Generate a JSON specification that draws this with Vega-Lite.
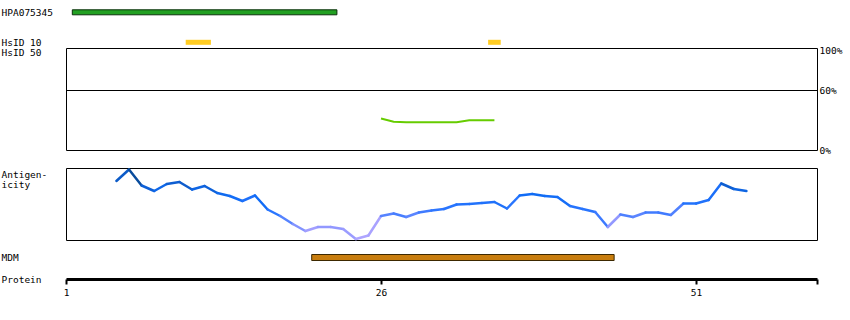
{
  "$schema": "https://vega.github.io/schema/vega-lite/v6.json",
  "background": "white",
  "padding": {"left": 0, "top": 0, "right": 0, "bottom": 0},
  "config": {
    "view": {"stroke": null},
    "font": "DejaVu Sans Mono",
    "axis": {"labelFont": "DejaVu Sans Mono", "titleFont": "DejaVu Sans Mono", "labelFontSize": 9.5, "titleFontSize": 9.5, "labelColor": "black", "titleColor": "black", "titleFontWeight": "normal", "grid": false}
  },
  "datasets": {
    "tracks": [
      {"track": "HPA075345", "from": 1.5, "to": 22.5},
      {"track": "HsID 10", "from": 10.5, "to": 12.5},
      {"track": "HsID 10", "from": 34.5, "to": 35.5}
    ],
    "hsid50": [
      {"p": 26, "v": 31.5}, {"p": 27, "v": 28.3}, {"p": 28, "v": 27.8}, {"p": 29, "v": 27.8},
      {"p": 30, "v": 27.8}, {"p": 31, "v": 27.8}, {"p": 32, "v": 27.8}, {"p": 33, "v": 29.7},
      {"p": 34, "v": 29.7}, {"p": 35, "v": 29.7}
    ],
    "anti": [
      {"p": 5, "v": 59}, {"p": 6, "v": 70.5}, {"p": 7, "v": 54.5}, {"p": 8, "v": 49}, {"p": 9, "v": 56},
      {"p": 10, "v": 58}, {"p": 11, "v": 50.5}, {"p": 12, "v": 54}, {"p": 13, "v": 47}, {"p": 14, "v": 44},
      {"p": 15, "v": 39}, {"p": 16, "v": 44.5}, {"p": 17, "v": 30.5}, {"p": 18, "v": 24}, {"p": 19, "v": 16},
      {"p": 20, "v": 9}, {"p": 21, "v": 13}, {"p": 22, "v": 13}, {"p": 23, "v": 11}, {"p": 24, "v": 1},
      {"p": 25, "v": 4.5}, {"p": 26, "v": 24}, {"p": 27, "v": 26.5}, {"p": 28, "v": 23}, {"p": 29, "v": 27.5},
      {"p": 30, "v": 29.5}, {"p": 31, "v": 31}, {"p": 32, "v": 35.5}, {"p": 33, "v": 36}, {"p": 34, "v": 37},
      {"p": 35, "v": 38}, {"p": 36, "v": 31.5}, {"p": 37, "v": 44.5}, {"p": 38, "v": 46}, {"p": 39, "v": 44},
      {"p": 40, "v": 43}, {"p": 41, "v": 34}, {"p": 42, "v": 31}, {"p": 43, "v": 28}, {"p": 44, "v": 13},
      {"p": 45, "v": 25.5}, {"p": 46, "v": 23}, {"p": 47, "v": 27.5}, {"p": 48, "v": 27.5}, {"p": 49, "v": 25},
      {"p": 50, "v": 36.5}, {"p": 51, "v": 36.5}, {"p": 52, "v": 40}, {"p": 53, "v": 56.5}, {"p": 54, "v": 51},
      {"p": 55, "v": 49}
    ],
    "mdm": [
      {"track": "MDM", "from": 20.5, "to": 44.5}
    ]
  },
  "spacing": 0,
  "bounds": "flush",
  "vconcat": [
    {
      "width": 751,
      "height": 48,
      "data": {"name": "tracks"},
      "layer": [
        {
          "transform": [{"filter": "datum.track == 'HPA075345'"}],
          "mark": {"type": "bar", "height": 5, "fill": "#22a022", "stroke": "#0a300a", "strokeWidth": 1},
          "encoding": {
            "x": {"field": "from", "type": "quantitative", "scale": {"domain": [1, 60.6], "nice": false, "zero": false}, "axis": null},
            "x2": {"field": "to"},
            "y": {"field": "track", "type": "nominal", "scale": {"type": "point", "domain": ["HPA075345", "HsID 10"], "range": [12.3, 42.3], "padding": 0},
              "axis": {"orient": "left", "domain": false, "ticks": false, "tickSize": 0, "labelAlign": "left", "labelBaseline": "middle", "labelPadding": 65, "title": null}}
          }
        },
        {
          "transform": [{"filter": "datum.track == 'HsID 10'"}],
          "mark": {"type": "bar", "height": 5, "fill": "#ffcc22"},
          "encoding": {
            "x": {"field": "from", "type": "quantitative"},
            "x2": {"field": "to"},
            "y": {"field": "track", "type": "nominal"}
          }
        }
      ]
    },
    {
      "width": 751,
      "height": 102,
      "view": {"stroke": "black", "strokeWidth": 1},
      "layer": [
        {
          "data": {"name": "hsid50"},
          "mark": {"type": "line", "color": "#66cc00", "strokeWidth": 2},
          "encoding": {
            "x": {"field": "p", "type": "quantitative", "scale": {"domain": [1, 60.6], "nice": false, "zero": false}, "axis": null},
            "y": {"field": "v", "type": "quantitative", "scale": {"domain": [0, 102], "nice": false},
              "axis": {"orient": "right", "values": [0, 60, 100], "labelExpr": "datum.value + '%'", "domain": false, "ticks": false, "tickSize": 0, "labelPadding": 2, "labelAlign": "left", "labelBaseline": "middle", "labelFlush": false,
                "title": "HsID 50", "titleAngle": 0, "titleAlign": "left", "titleBaseline": "middle", "titleX": -816, "titleY": 4}}
          }
        },
        {
          "data": {"values": [{}]},
          "mark": {"type": "rule", "color": "black", "strokeWidth": 1, "yOffset": 0.5},
          "encoding": {
            "y": {"datum": 60, "type": "quantitative"}
          }
        }
      ]
    },
    {
      "width": 751,
      "height": 18,
      "data": {"values": [{}]},
      "mark": {"type": "point", "opacity": 0},
      "encoding": {}
    },
    {
      "width": 751,
      "height": 72,
      "view": {"stroke": "black", "strokeWidth": 1},
      "data": {"name": "anti"},
      "transform": [
        {"window": [{"op": "lead", "field": "p", "as": "p2"}, {"op": "lead", "field": "v", "as": "v2"}], "sort": [{"field": "p"}]},
        {"filter": "datum.p2 != null"}
      ],
      "mark": {"type": "rule", "strokeWidth": 2.5, "strokeCap": "round"},
      "encoding": {
        "x": {"field": "p", "type": "quantitative", "scale": {"domain": [1, 60.6], "nice": false, "zero": false}, "axis": null},
        "x2": {"field": "p2"},
        "y": {"field": "v", "type": "quantitative", "scale": {"domain": [0, 72], "nice": false},
          "axis": {"labels": false, "ticks": false, "domain": false, "title": ["Antigen-", "icity"], "titleAngle": 0, "titleAlign": "left", "titleBaseline": "top", "titleX": -65, "titleY": 1, "titleLineHeight": 10}},
        "y2": {"field": "v2"},
        "color": {"field": "v", "type": "quantitative", "legend": null,
          "scale": {"domain": [0, 10, 20, 30, 45, 58, 72], "range": ["#b0a6ff", "#a09eff", "#6a8cff", "#2a76ff", "#106cf6", "#0e5ccc", "#0a4a98"]}}
      }
    },
    {
      "width": 751,
      "height": 39,
      "data": {"name": "mdm"},
      "mark": {"type": "bar", "height": 6, "fill": "#c87d0e", "stroke": "#3c2800", "strokeWidth": 1},
      "encoding": {
        "x": {"field": "from", "type": "quantitative", "scale": {"domain": [1, 60.6], "nice": false, "zero": false},
          "axis": {"orient": "bottom", "values": [1, 26, 51, 60.6], "labelExpr": "datum.value > 60 ? '' : datum.label", "domain": true, "domainWidth": 3, "domainColor": "black", "ticks": true, "tickWidth": 2, "tickSize": 5, "tickColor": "black", "labelPadding": 3, "labelFlush": false, "title": null}},
        "x2": {"field": "to"},
        "y": {"field": "track", "type": "nominal", "scale": {"type": "point", "domain": ["MDM", "Protein"], "range": [17.5, 39], "padding": 0},
          "axis": {"orient": "left", "domain": false, "ticks": false, "tickSize": 0, "labelAlign": "left", "labelBaseline": "middle", "labelPadding": 65, "title": null}}
      }
    }
  ]
}
